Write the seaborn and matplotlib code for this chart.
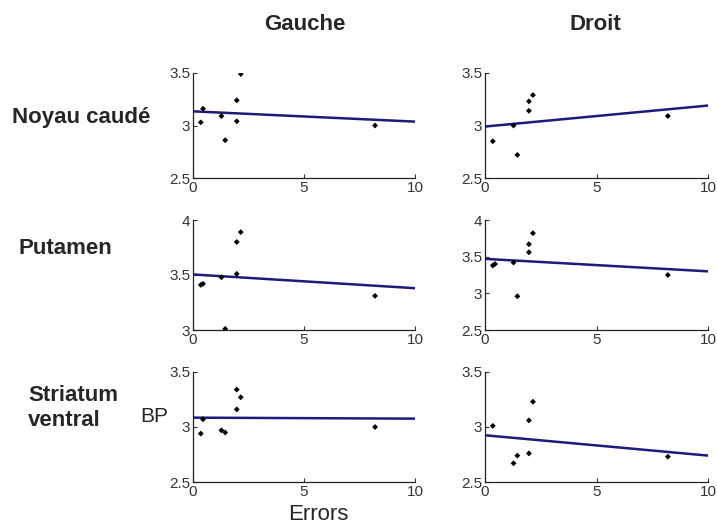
import numpy as np
import matplotlib
matplotlib.use("Agg")
import matplotlib.pyplot as plt
import seaborn as sns

# errors per subject (x axis, same subjects in every panel)
errors = [0.35, 0.45, 1.28, 1.45, 1.97, 1.97, 2.15, 8.2]

# BP values, gauche / droit, for each region
bp_caude_g = [3.03, 3.16, 3.09, 2.86, 3.04, 3.24, 3.49, 3.00]
bp_caude_d = [2.85, np.nan, 3.00, 2.72, 3.14, 3.23, 3.29, 3.09]
bp_putamen_g = [3.41, 3.42, 3.48, 3.01, 3.51, 3.80, 3.89, 3.31]
bp_putamen_d = [3.38, 3.40, 3.42, 2.96, 3.56, 3.67, 3.82, 3.25]
bp_ventral_g = [2.94, 3.07, 2.97, 2.95, 3.16, 3.34, 3.27, 3.00]
bp_ventral_d = [3.01, np.nan, 2.67, 2.74, 2.76, 3.06, 3.23, 2.73]

# fitted lines (intercept, slope) as drawn in the figure
fit_intercept = [3.135, 2.99, 3.505, 3.47, 3.085, 2.925]
fit_slope = [-0.0098, 0.020, -0.0125, -0.017, -0.0009, -0.0185]

row_labels = ["Noyau caudé", "Putamen", "Striatum\nventral"]
col_labels = ["Gauche", "Droit"]
ylims = [(2.5, 3.5), (2.5, 3.5), (3, 4), (2.5, 4), (2.5, 3.5), (2.5, 3.5)]

sns.set_theme(style="ticks")
plt.rcParams["font.family"] = ["Liberation Sans", "DejaVu Sans"]

fig = plt.figure(figsize=(7.17, 5.25), dpi=100)
W, H = 717, 525

# panel rectangles in pixels: left, top, right, bottom
col_px = [(193, 415), (485, 708)]
row_px = [(73, 178), (220, 330), (372, 482)]

series = [bp_caude_g, bp_caude_d, bp_putamen_g, bp_putamen_d, bp_ventral_g, bp_ventral_d]
line_col = "#1c1a7a"

for r in range(3):
    for c in range(2):
        k = r * 2 + c
        x0, x1 = col_px[c]
        t, b = row_px[r]
        ax = fig.add_axes([x0 / W, 1 - b / H, (x1 - x0) / W, (b - t) / H])
        xs = np.array([0, 10])
        sns.lineplot(x=xs, y=fit_intercept[k] + fit_slope[k] * xs, ax=ax,
                     color=line_col, lw=1.8)
        sns.scatterplot(x=errors, y=series[k], ax=ax, color="black", s=9,
                        marker="D", edgecolor="none", zorder=3)
        ax.set_xlim(0, 10)
        ax.set_ylim(*ylims[k])
        ax.set_xticks([0, 5, 10])
        lo, hi = ylims[k]
        ax.set_yticks(np.arange(lo, hi + 0.01, 0.5))
        ax.set_yticklabels([f"{v:g}" for v in np.arange(lo, hi + 0.01, 0.5)])
        sns.despine(ax=ax)
        ax.tick_params(direction="in", length=3, width=0.8, labelsize=11,
                       colors="#333333", pad=2)
        for sp in ax.spines.values():
            sp.set_color("#222222")
            sp.set_linewidth(0.9)
        ax.set_xlabel("")
        ax.set_ylabel("")

fig.text(305 / W, 1 - 25 / H, col_labels[0], ha="center", va="center",
         fontsize=16, fontweight="bold")
fig.text(595 / W, 1 - 25 / H, col_labels[1], ha="center", va="center",
         fontsize=16, fontweight="bold")
fig.text(12 / W, 1 - 117 / H, row_labels[0], ha="left", va="center",
         fontsize=16, fontweight="bold")
fig.text(65 / W, 1 - 248 / H, row_labels[1], ha="center", va="center",
         fontsize=16, fontweight="bold")
fig.text(28 / W, 1 - 408 / H, row_labels[2], ha="left", va="center",
         fontsize=16, fontweight="bold", linespacing=1.2)
fig.text(154 / W, 1 - 416 / H, "BP", ha="center", va="center", fontsize=15)
fig.text(318 / W, 1 - 514 / H, "Errors", ha="center", va="center", fontsize=16)

fig.savefig("out.png", dpi=100)
